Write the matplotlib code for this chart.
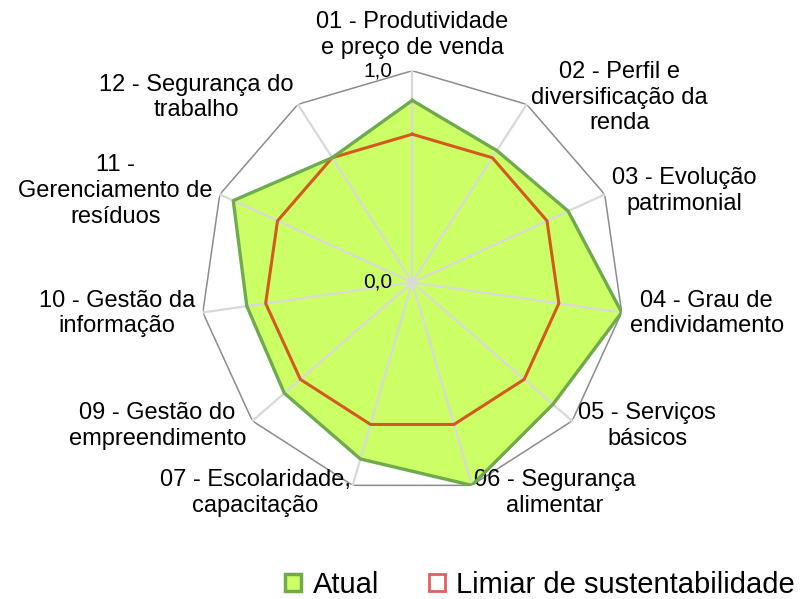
import numpy as np
import matplotlib.pyplot as plt
from matplotlib.patches import Patch

plt.rcParams['font.family'] = ['Liberation Sans', 'DejaVu Sans']

# dados
categorias = [
    '01 - Produtividade\ne preço de venda',
    '02 - Perfil e\ndiversificação da\nrenda',
    '03 - Evolução\npatrimonial',
    '04 - Grau de\nendividamento',
    '05 - Serviços\nbásicos',
    '06 - Segurança\nalimentar',
    '07 - Escolaridade,\ncapacitação',
    '09 - Gestão do\nempreendimento',
    '10 - Gestão da\ninformação',
    '11 -\nGerenciamento de\nresíduos',
    '12 - Segurança do\ntrabalho',
]
atual = [0.86, 0.74, 0.81, 1.0, 0.88, 1.0, 0.87, 0.80, 0.79, 0.93, 0.70]
limiar = [0.7, 0.7, 0.7, 0.7, 0.7, 0.7, 0.7, 0.7, 0.7, 0.7, 0.7]
r_max = 1.0

fig = plt.figure(figsize=(8.03, 5.99), dpi=100)
ax = fig.add_axes([0.2499, 0.1754, 0.527, 0.7065], projection='polar')

n = len(categorias)
angles = np.linspace(0, 2 * np.pi, n, endpoint=False)
ang_c = np.append(angles, angles[0])
atual_c = atual + atual[:1]
limiar_c = limiar + limiar[:1]

ax.set_theta_zero_location('N')
ax.set_theta_direction(-1)
ax.set_ylim(0, r_max)

# area + linhas
ax.fill(ang_c, atual_c, color='#CCFF66', zorder=1)
ax.plot(ang_c, [r_max] * (n + 1), color='#8C8C8C', lw=1.1, zorder=2)
ax.plot(ang_c, limiar_c, color='#D25A1E', lw=2.2, zorder=3)
ax.plot(ang_c, atual_c, color='#6FAA4D', lw=2.4, zorder=4)

# grade (raios)
ax.set_xticks(angles)
ax.set_xticklabels([])
ax.set_yticks([])
ax.tick_params(axis='x', length=0)
ax.xaxis.grid(True, color='#D9D9D9', lw=1.6)
ax.yaxis.grid(False)
ax.set_axisbelow(False)
ax.spines['polar'].set_visible(False)

# rótulos das categorias
for ang, lab in zip(angles, categorias):
    s, c = np.sin(ang), np.cos(ang)
    if abs(s) < 1e-6:
        ha, va, off = 'center', 'bottom', (0, 12)
    else:
        ha = 'left' if s > 0 else 'right'
        va = 'center'
        off = (8 * s, 8 * c)
    ax.annotate(lab, xy=(ang, r_max), xytext=off, textcoords='offset pixels',
                ha=ha, va=va, multialignment='center', fontsize=17,
                linespacing=1.22, annotation_clip=False)

# rótulos do eixo radial
for val, txt in [(0.0, '0,0'), (r_max, '1,0')]:
    ax.annotate(txt, xy=(0, val), xytext=(-20, 0), textcoords='offset pixels',
                ha='right', va='center', fontsize=15, annotation_clip=False)

handles = [
    Patch(facecolor='#CCFF66', edgecolor='#6FAA4D', lw=2.5, label='Atual'),
    Patch(facecolor='white', edgecolor='#E06060', lw=2, label='Limiar de sustentabilidade'),
]
fig.legend(handles=handles, loc='center', bbox_to_anchor=(0.6725, 0.024), ncol=2,
           frameon=False, fontsize=21, handlelength=0.55, handleheight=0.55,
           handletextpad=0.4, columnspacing=1.7, borderpad=0, borderaxespad=0)

fig.savefig('out.png', dpi=100)
